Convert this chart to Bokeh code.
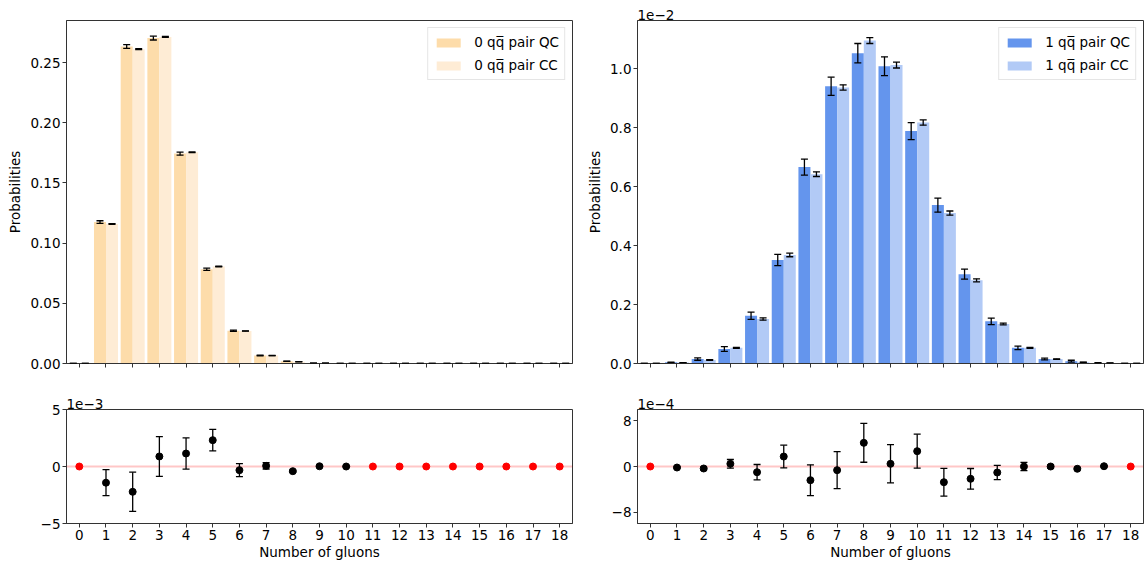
from bokeh.plotting import figure
from bokeh.models import (ColumnDataSource, Range1d, FixedTicker, Whisker, TeeHead, Span,
                          CustomJSTickFormatter, Legend, LegendItem)
from bokeh.layouts import row, column
from bokeh.embed import file_html
from bokeh.resources import INLINE

# ---------------- data ----------------
gluons = list(range(19))

# 0 q-qbar pair sector
qc0 = [0.0, 0.1175, 0.2634, 0.2704, 0.1744, 0.0783, 0.0273, 0.0066, 0.0019, 0.0003,
       0.00005, 0.0, 0.0, 0.0, 0.0, 0.0, 0.0, 0.0, 0.0]
qc0_err = [0.0, 0.0011, 0.0016, 0.0016, 0.0013, 0.0009, 0.0005, 0.00025, 0.00012, 0.00005,
           0.00003, 0.0, 0.0, 0.0, 0.0, 0.0, 0.0, 0.0, 0.0]
cc0 = [0.0, 0.1160, 0.2612, 0.2713, 0.1755, 0.0806, 0.0270, 0.0066, 0.0015, 0.0003,
       0.00005, 0.0, 0.0, 0.0, 0.0, 0.0, 0.0, 0.0, 0.0]
cc0_err = [0.0, 0.0003, 0.0004, 0.0004, 0.0003, 0.0002, 0.0001, 0.00005, 0.00003, 0.00001,
           0.000005, 0.0, 0.0, 0.0, 0.0, 0.0, 0.0, 0.0, 0.0]
diff0 = [0.0, -0.00142, -0.00222, 0.00088, 0.00114, 0.00231, -0.00032, 0.00006, -0.00041,
         0.00002, 0.0, 0.0, 0.0, 0.0, 0.0, 0.0, 0.0, 0.0, 0.0]
diff0_err = [0.0, 0.00114, 0.00172, 0.00174, 0.00137, 0.00094, 0.00057, 0.00028, 0.0001,
             0.00005, 0.00003, 0.0, 0.0, 0.0, 0.0, 0.0, 0.0, 0.0, 0.0]

# 1 q-qbar pair sector
qc1 = [0.0, 0.00004, 0.00015, 0.00049, 0.00162, 0.00351, 0.00666, 0.00940, 0.01052, 0.01008,
       0.00788, 0.00537, 0.00303, 0.00143, 0.00053, 0.00015, 0.00008, 0.00002, 0.0]
qc1_err = [0.0, 0.00001, 0.00004, 0.00008, 0.000125, 0.00019, 0.00027, 0.00031, 0.00033,
           0.00032, 0.00029, 0.00024, 0.00017, 0.00011, 0.00006, 0.00003, 0.00003, 0.00001, 0.0]
cc1 = [0.0, 0.00003, 0.00012, 0.00053, 0.00151, 0.00368, 0.00642, 0.00936, 0.01095, 0.01012,
       0.00817, 0.00510, 0.00282, 0.00134, 0.00053, 0.00015, 0.00004, 0.000015, 0.0]
cc1_err = [0.0, 0.000003, 0.00001, 0.00002, 0.00004, 0.00006, 0.00008, 0.00009, 0.0001,
           0.0001, 0.00009, 0.00007, 0.00005, 0.00003, 0.00002, 0.00001, 0.000005, 0.000003, 0.0]
diff1 = [0.0, -0.000018, -0.000035, 0.000047, -0.0001, 0.000175, -0.00024, -0.000064,
         0.000415, 0.000047, 0.000269, -0.000275, -0.000216, -0.000105, 0.0, 0.0, -0.00004,
         0.000005, 0.0]
diff1_err = [0.0, 0.00001, 0.000025, 0.000076, 0.000135, 0.0002, 0.00027, 0.000325, 0.00034,
             0.000336, 0.000298, 0.000243, 0.000181, 0.000126, 0.000073, 0.00003, 0.000015,
             0.00001, 0.0]

yticks_top0 = [0.0, 0.05, 0.10, 0.15, 0.20, 0.25]
yticks_top1 = [0.0, 0.002, 0.004, 0.006, 0.008, 0.010]
yticks_bot0 = [-0.005, 0.0, 0.005]
yticks_bot1 = [-0.0008, 0.0, 0.0008]

labels0 = ["0 qq\u0305 pair QC", "0 qq\u0305 pair CC"]
labels1 = ["1 qq\u0305 pair QC", "1 qq\u0305 pair CC"]
offset_texts = ["1e\u22122", "1e\u22123", "1e\u22124"]

# ---------------- style ----------------
FONT = "DejaVu Sans"
FS = "13.5px"
BAR_W = 0.45
FRAME_W = 506
TOP_H = 343
BOT_H = 114


def base_fig(y_lo, y_hi, left, right, top, bottom, fh, ticks, fmt_code, title_text=None):
    p = figure(frame_width=FRAME_W, frame_height=fh,
               x_range=Range1d(-0.48, 18.48), y_range=Range1d(y_lo, y_hi),
               output_backend="svg", toolbar_location=None, tools="",
               min_border_left=left, min_border_right=right,
               min_border_top=top, min_border_bottom=bottom)
    p.background_fill_color = "white"
    p.border_fill_color = "white"
    p.outline_line_color = "#333333"
    p.outline_line_width = 1
    p.xgrid.visible = False
    p.ygrid.visible = False
    for ax in (p.xaxis[0], p.yaxis[0]):
        ax.axis_line_color = "#333333"
        ax.major_tick_line_color = "#333333"
        ax.major_tick_out = 4
        ax.major_tick_in = 0
        ax.minor_tick_line_color = None
        ax.major_label_text_font = FONT
        ax.major_label_text_font_size = FS
        ax.major_label_text_color = "black"
        ax.major_label_standoff = 2
        ax.axis_label_text_font = FONT
        ax.axis_label_text_font_size = FS
        ax.axis_label_text_font_style = "normal"
        ax.axis_label_text_color = "black"
    p.xaxis.ticker = FixedTicker(ticks=gluons)
    p.yaxis.ticker = FixedTicker(ticks=ticks)
    p.yaxis.formatter = CustomJSTickFormatter(code=fmt_code)
    if title_text is not None:
        p.title.text = title_text
        p.title.align = "left"
        p.title.text_font = FONT
        p.title.text_font_size = FS
        p.title.text_font_style = "normal"
        p.title.text_color = "black"
        p.title.standoff = 1
        p.title.offset = 0
    return p


def bar_panel(p, qc, qc_err, cc, cc_err, c_qc, c_cc, labels):
    xs_qc = [g - BAR_W / 2 for g in gluons]
    xs_cc = [g + BAR_W / 2 for g in gluons]
    s_qc = ColumnDataSource(dict(x=xs_qc, top=qc,
                                 up=[v + e for v, e in zip(qc, qc_err)],
                                 lo=[v - e for v, e in zip(qc, qc_err)]))
    s_cc = ColumnDataSource(dict(x=xs_cc, top=cc,
                                 up=[v + e for v, e in zip(cc, cc_err)],
                                 lo=[v - e for v, e in zip(cc, cc_err)]))
    r1 = p.vbar(x="x", top="top", bottom=0, width=BAR_W, source=s_qc,
                fill_color=c_qc, line_color=None)
    r2 = p.vbar(x="x", top="top", bottom=0, width=BAR_W, source=s_cc,
                fill_color=c_cc, line_color=None)
    for s in (s_qc, s_cc):
        w = Whisker(base="x", upper="up", lower="lo", source=s,
                    line_color="black", line_width=1.3, level="overlay",
                    upper_head=TeeHead(size=7, line_color="black", line_width=1.3),
                    lower_head=TeeHead(size=7, line_color="black", line_width=1.3))
        p.add_layout(w)
    leg = Legend(items=[LegendItem(label=labels[0], renderers=[r1]),
                        LegendItem(label=labels[1], renderers=[r2])],
                 location="top_right", margin=7, padding=5, spacing=5,
                 glyph_width=30, glyph_height=11, label_height=18, label_standoff=11,
                 label_text_font=FONT, label_text_font_size=FS, label_text_color="black",
                 border_line_color="#cccccc", border_line_width=1,
                 background_fill_color="white", background_fill_alpha=0.9)
    p.add_layout(leg)
    p.yaxis.axis_label = "Probabilities"
    p.yaxis.axis_label_standoff = 4
    p.xaxis.formatter = CustomJSTickFormatter(code="return '';")
    p.xaxis.major_label_text_font_size = "0px"
    p.xaxis.major_label_standoff = 0


def diff_panel(p, diff, err):
    p.add_layout(Span(location=0, dimension="width", line_color="red", line_alpha=0.22,
                      line_width=2, level="underlay"))
    blk = [i for i in gluons if err[i] > 0]
    red = [i for i in gluons if err[i] == 0]
    sb = ColumnDataSource(dict(x=blk, y=[diff[i] for i in blk],
                               up=[diff[i] + err[i] for i in blk],
                               lo=[diff[i] - err[i] for i in blk]))
    sr = ColumnDataSource(dict(x=red, y=[diff[i] for i in red]))
    p.add_layout(Whisker(base="x", upper="up", lower="lo", source=sb,
                         line_color="black", line_width=1.3, level="glyph",
                         upper_head=TeeHead(size=7, line_color="black", line_width=1.3),
                         lower_head=TeeHead(size=7, line_color="black", line_width=1.3)))
    p.scatter(x="x", y="y", source=sb, size=7, fill_color="black", line_color="black")
    p.scatter(x="x", y="y", source=sr, size=7, fill_color="red", line_color="red")
    p.xaxis.axis_label = "Number of gluons"
    p.xaxis.axis_label_standoff = 1
    p.xaxis.major_label_overrides = {g: str(g) for g in gluons}


minus_fmt = ("const v = Math.round(tick*%s); return v < 0 ? '\\u2212' + (-v) : '' + v;")

p1 = base_fig(0.0, 0.285, 66, 10, 20, 22, TOP_H, yticks_top0, "return tick.toFixed(2);")
p2 = base_fig(0.0, 0.01163, 55, 2, 20, 22, TOP_H, yticks_top1,
              "return (tick*100).toFixed(1);", offset_texts[0])
p3 = base_fig(-0.005, 0.005, 66, 10, 24, 38, BOT_H, yticks_bot0, minus_fmt % "1000",
              offset_texts[1])
p4 = base_fig(-0.001, 0.001, 55, 2, 24, 38, BOT_H, yticks_bot1, minus_fmt % "10000",
              offset_texts[2])

bar_panel(p1, qc0, qc0_err, cc0, cc0_err, "#fddcaa", "#feecd5", labels0)
bar_panel(p2, qc1, qc1_err, cc1, cc1_err, "#6495ed", "#b2caf6", labels1)
diff_panel(p3, diff0, diff0_err)
diff_panel(p4, diff1, diff1_err)

layout = column(row(p1, p2), row(p3, p4))
open("out.html", "w").write(file_html(layout, INLINE))
